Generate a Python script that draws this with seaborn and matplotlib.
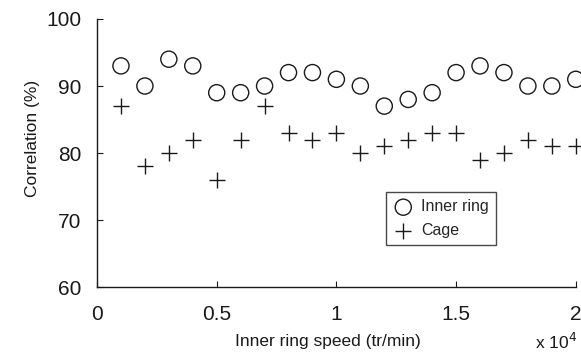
import matplotlib
matplotlib.use("Agg")
import matplotlib.pyplot as plt
import seaborn as sns
import pandas as pd

speed = [0.1, 0.2, 0.3, 0.4, 0.5, 0.6, 0.7, 0.8, 0.9, 1.0,
         1.1, 1.2, 1.3, 1.4, 1.5, 1.6, 1.7, 1.8, 1.9, 2.0]
inner_ring = [93, 90, 94, 93, 89, 89, 90, 92, 92, 91,
              90, 87, 88, 89, 92, 93, 92, 90, 90, 91]
cage = [87, 78, 80, 82, 76, 82, 87, 83, 82, 83,
        80, 81, 82, 83, 83, 79, 80, 82, 81, 81]
xticks = [0, 0.5, 1, 1.5, 2]
xticklabels = ["0", "0.5", "1", "1.5", "2"]
yticks = [60, 70, 80, 90, 100]

sns.set_style("ticks")
plt.rcParams["font.family"] = ["Liberation Sans", "DejaVu Sans"]

df_inner = pd.DataFrame({"speed": speed, "corr": inner_ring})
df_cage = pd.DataFrame({"speed": speed, "corr": cage})

ink = "#1a1a1a"
fig = plt.figure(figsize=(5.81, 3.58), dpi=100)
ax = fig.add_axes([0.167, 0.198, 0.824, 0.749])

sns.scatterplot(data=df_inner, x="speed", y="corr", ax=ax, marker="o",
                s=135, facecolor="none", edgecolor=ink, linewidth=1.0,
                label="Inner ring", clip_on=False)
sns.scatterplot(data=df_cage, x="speed", y="corr", ax=ax, marker="+",
                s=135, color=ink, linewidth=1.0, label="Cage", clip_on=False)

ax.set_xlim(0, 2)
ax.set_ylim(60, 100)
ax.set_xticks(xticks)
ax.set_xticklabels(xticklabels)
ax.set_yticks(yticks)
ax.tick_params(direction="in", length=4, width=0.8, colors=ink,
               labelsize=15)
ax.tick_params(axis="x", pad=13)
ax.tick_params(axis="y", pad=11.5)
for side in ("left", "bottom"):
    ax.spines[side].set_color(ink)
    ax.spines[side].set_linewidth(1.0)
for side in ("top", "right"):
    ax.spines[side].set_visible(False)

ax.set_xlabel("Inner ring speed (tr/min)", fontsize=12.5, color=ink)
ax.set_ylabel("Correlation (%)", fontsize=12.5, color=ink)
ax.xaxis.set_label_coords(0.482, -0.176)
ax.yaxis.set_label_coords(-0.12, 0.556)

leg = ax.legend(loc="upper left", bbox_to_anchor=(0.603, 0.354),
                frameon=True, fancybox=False, fontsize=11.5,
                handletextpad=0.45, borderpad=0.45, labelspacing=0.55,
                handlelength=1.3, borderaxespad=0)
leg.get_frame().set_edgecolor(ink)
leg.get_frame().set_linewidth(1.0)

fig.text(0.921, 0.025, r"x 10$^{4}$", fontsize=12.5, color=ink,
         va="baseline")

fig.savefig("out.png", dpi=100)
